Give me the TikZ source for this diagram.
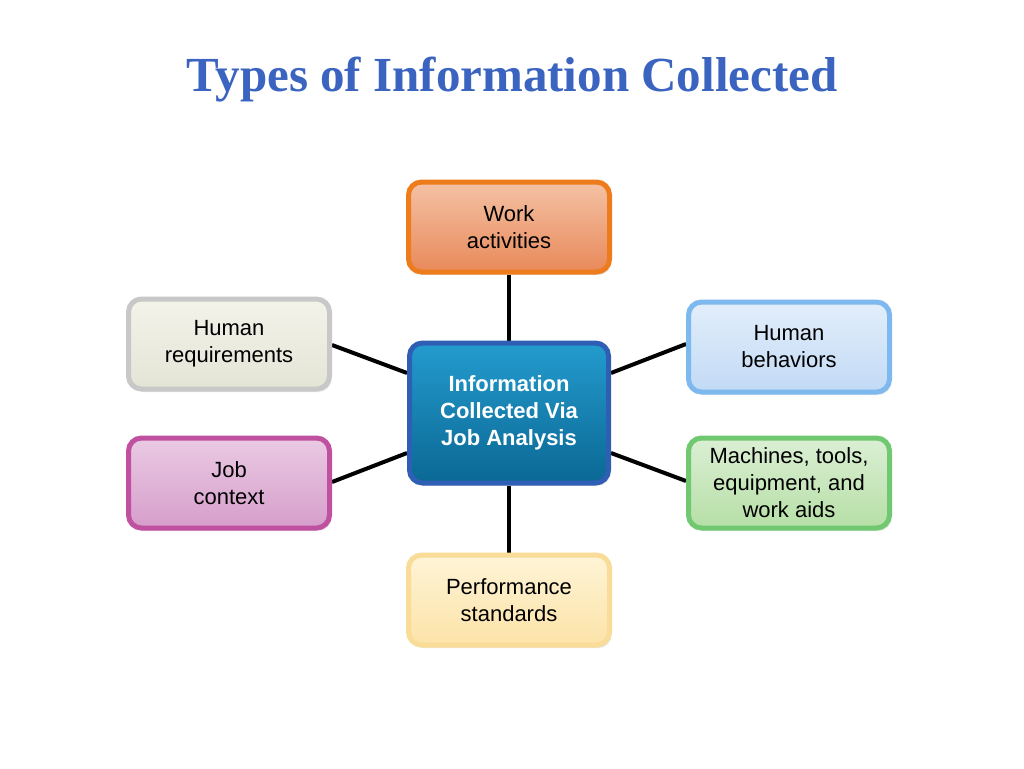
\documentclass[tikz,border=0pt]{standalone}
\usepackage{fontspec}
\setmainfont{Liberation Sans}
\newfontfamily\titlefont{Liberation Serif}
\usetikzlibrary{calc,shadows,backgrounds}
\definecolor{titleblue}{HTML}{3B64C0}
\definecolor{orB}{HTML}{EC7C1C}\definecolor{orT}{HTML}{F4C2A4}\definecolor{orM}{HTML}{E9895A}
\definecolor{grB}{HTML}{C8C8C8}\definecolor{grT}{HTML}{F3F3EA}\definecolor{grM}{HTML}{E4E4D6}
\definecolor{lbB}{HTML}{7DB8EE}\definecolor{lbT}{HTML}{E2EEFB}\definecolor{lbM}{HTML}{C2DAF5}
\definecolor{ceB}{HTML}{2F5FB5}\definecolor{ceT}{HTML}{239BCE}\definecolor{ceM}{HTML}{0B6894}
\definecolor{puB}{HTML}{C050A0}\definecolor{puT}{HTML}{EACAE3}\definecolor{puM}{HTML}{D69ECB}
\definecolor{gnB}{HTML}{70C870}\definecolor{gnT}{HTML}{DBEFD4}\definecolor{gnM}{HTML}{B6DFA6}
\definecolor{yeB}{HTML}{F8DC98}\definecolor{yeT}{HTML}{FEF4D6}\definecolor{yeM}{HTML}{FCE3A8}
\tikzset{
  infobox/.style={rounded corners=13pt, line width=5pt, minimum width=201pt,
    minimum height=90pt, align=center, inner sep=2pt,
    font=\fontsize{22}{27}\selectfont,
    drop shadow={shadow xshift=2pt, shadow yshift=-3pt, opacity=0.18}},
  link/.style={line width=4pt, black},
}
\begin{document}
\begin{tikzpicture}[x=1pt,y=-1pt]
\useasboundingbox (0,0) rectangle (1024,768);
% title
\node (title)[text=titleblue, font=\titlefont\bfseries\fontsize{49}{56}\selectfont] at (512,80) {Types of Information Collected};
% boxes
\node (wa)[infobox, draw=orB, top color=orT, bottom color=orM] at (509,227) {Work\\activities};
\node (hr)[infobox, draw=grB, top color=grT, bottom color=grM] at (229,344) {Human\\requirements};
\node (hb)[infobox, draw=lbB, top color=lbT, bottom color=lbM] at (789,347) {Human\\behaviors};
\node (c)[infobox, draw=ceB, top color=ceT, bottom color=ceM, minimum width=199pt, minimum height=140pt, text=white, font=\bfseries\fontsize{22}{27}\selectfont] at (509,413) {Information\\Collected Via\\Job Analysis};
\node (jc)[infobox, draw=puB, top color=puT, bottom color=puM] at (229,483) {Job\\context};
\node (mt)[infobox, draw=gnB, top color=gnT, bottom color=gnM] at (789,483) {Machines, tools,\\equipment, and\\work aids};
\node (ps)[infobox, draw=yeB, top color=yeT, bottom color=yeM] at (509,600) {Performance\\standards};
% connectors
\begin{pgfonlayer}{background}
\fill[white] (0,0) rectangle (1024,768);
\draw[link] (wa.south) -- (c.north);
\draw[link] (ps.north) -- (c.south);
\draw[link] ($(hr.east)+(0,1)$) -- ($(c.west)+(0,-40)$);
\draw[link] ($(jc.east)+(0,-1)$) -- ($(c.west)+(0,40)$);
\draw[link] ($(hb.west)+(0,-3)$) -- ($(c.east)+(0,-40)$);
\draw[link] ($(mt.west)+(0,-2)$) -- ($(c.east)+(0,40)$);
\end{pgfonlayer}
\end{tikzpicture}
\end{document}
